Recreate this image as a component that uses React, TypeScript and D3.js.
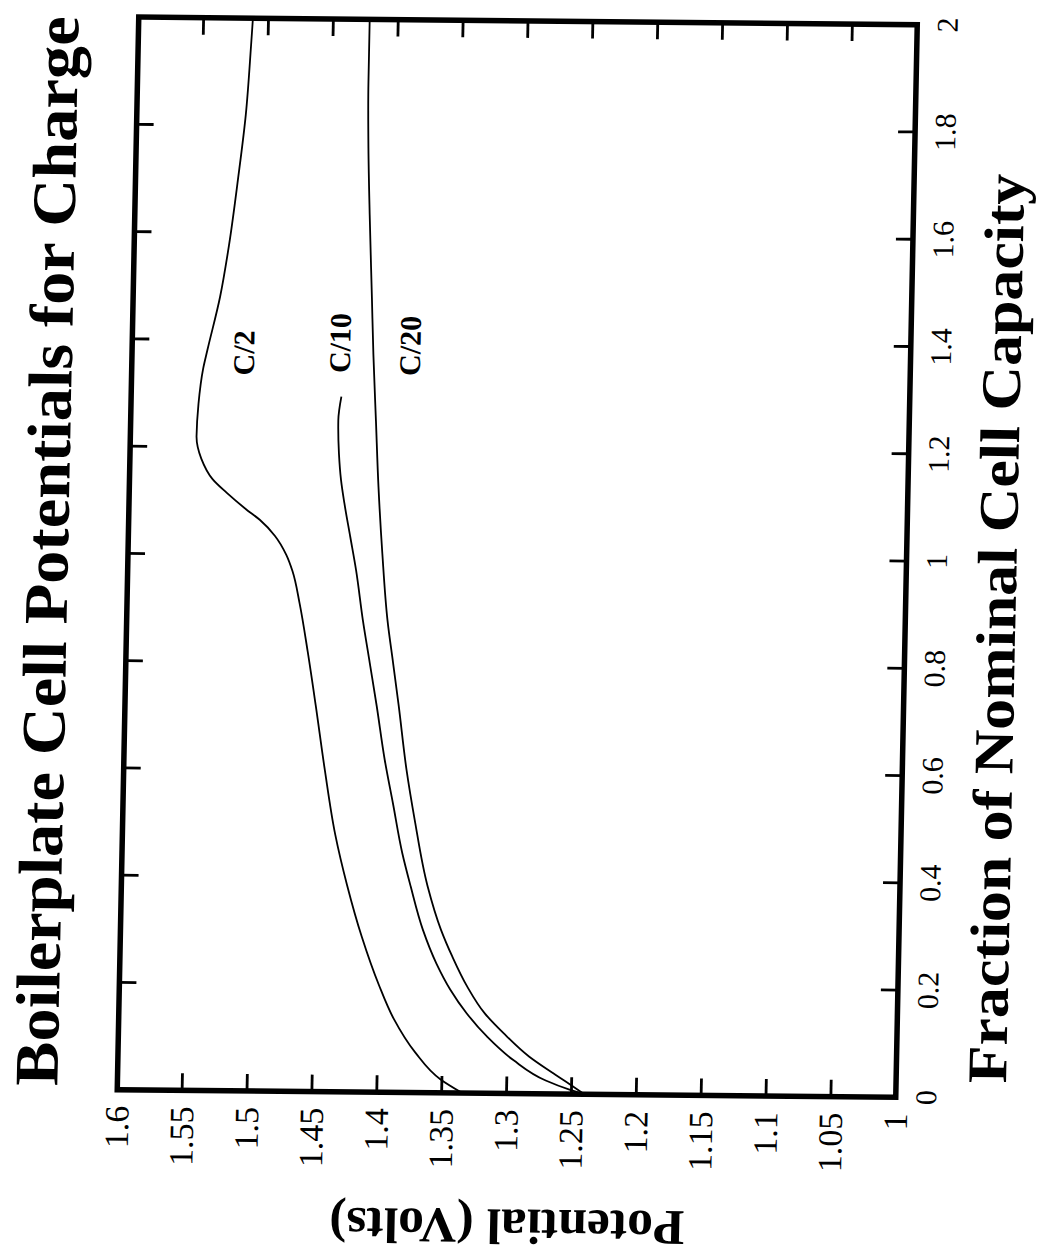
import React from 'react';
import * as d3 from 'd3';

// Fraction of nominal cell capacity (x) and potential in volts (y) for each charge rate
const fracC2 = [0, 0.025, 0.075, 0.137, 0.2, 0.29, 0.385, 0.48, 0.6, 0.72, 0.82, 0.91, 0.97, 1.0, 1.035, 1.065, 1.085, 1.115, 1.14, 1.178, 1.22, 1.28, 1.345, 1.38, 1.48, 1.575, 1.7, 1.82, 1.95, 2.0];
const voltC2 = [1.334, 1.351, 1.371, 1.388, 1.4, 1.414, 1.426, 1.436, 1.445, 1.453, 1.46, 1.467, 1.473, 1.478, 1.487, 1.499, 1.51, 1.525, 1.536, 1.545, 1.549, 1.548, 1.545, 1.542, 1.533, 1.527, 1.521, 1.516, 1.513, 1.512];

const fracC10 = [0, 0.008, 0.025, 0.062, 0.106, 0.149, 0.193, 0.241, 0.304, 0.384, 0.446, 0.539, 0.62, 0.72, 0.8, 0.88, 0.973, 1.035, 1.097, 1.141, 1.19, 1.252, 1.296];
const voltC10 = [1.24, 1.251, 1.27, 1.295, 1.316, 1.332, 1.345, 1.356, 1.367, 1.377, 1.384, 1.392, 1.399, 1.406, 1.412, 1.418, 1.424, 1.429, 1.434, 1.437, 1.439, 1.44, 1.438];

const fracC20 = [0, 0.013, 0.038, 0.069, 0.112, 0.149, 0.199, 0.255, 0.304, 0.385, 0.509, 0.601, 0.72, 0.8, 0.88, 1.004, 1.128, 1.252, 1.376, 1.481, 1.636, 1.76, 1.884, 2.0];
const voltC20 = [1.24, 1.248, 1.264, 1.283, 1.303, 1.318, 1.332, 1.344, 1.353, 1.364, 1.375, 1.382, 1.389, 1.394, 1.399, 1.404, 1.408, 1.411, 1.414, 1.416, 1.419, 1.421, 1.422, 1.422];

const seriesNames = ['C/2', 'C/10', 'C/20'];
// label anchor in data units (fraction, volts)
const labelFrac = [1.376, 1.396, 1.392];
const labelVolt = [1.514, 1.44, 1.386];

const fracTicks = [0, 0.2, 0.4, 0.6, 0.8, 1, 1.2, 1.4, 1.6, 1.8, 2];
const voltTicks = [1.6, 1.55, 1.5, 1.45, 1.4, 1.35, 1.3, 1.25, 1.2, 1.15, 1.1, 1.05, 1];

const W = 1073;
const H = 778;
const TICK = 17;
const serif = '"Liberation Serif", "Times New Roman", serif';

export default function App() {
  const x = d3.scaleLinear().domain([0, 2]).range([0, W]);
  const y = d3.scaleLinear().domain([1, 1.6]).range([H, 0]);

  const line = d3
    .line<[number, number]>()
    .x((d) => x(d[0]))
    .y((d) => y(d[1]))
    .curve(d3.curveMonotoneX);

  const series = [
    d3.zip(fracC2, voltC2),
    d3.zip(fracC10, voltC10),
    d3.zip(fracC20, voltC20),
  ] as [number, number][][];

  const innerFrac = fracTicks.slice(1, -1);
  const innerVolt = voltTicks.slice(1, -1);

  // scanned page: turned a quarter turn and slightly skewed
  const transform = 'matrix(0.02004,-0.99967,1.00064,0.00983,117.25,1089.7)';

  return (
    <svg width={1039} height={1256} style={{ position: 'absolute', left: 0, top: 0, background: '#fff' }}>
      <g transform={transform}>
        {series.map((s, i) => (
          <path key={i} d={line(s) ?? ''} fill="none" stroke="#000" strokeWidth={1.8} />
        ))}

        {innerFrac.map((t) => (
          <g key={'f' + t}>
            <line x1={x(t)} x2={x(t)} y1={H} y2={H - TICK} stroke="#000" strokeWidth={2.8} />
            <line x1={x(t)} x2={x(t)} y1={0} y2={TICK} stroke="#000" strokeWidth={2.8} />
          </g>
        ))}
        {innerVolt.map((t) => (
          <g key={'v' + t}>
            <line x1={0} x2={TICK} y1={y(t)} y2={y(t)} stroke="#000" strokeWidth={2.8} />
            <line x1={W} x2={W - TICK} y1={y(t)} y2={y(t)} stroke="#000" strokeWidth={2.8} />
          </g>
        ))}

        <rect x={0} y={0} width={W} height={H} fill="none" stroke="#000" strokeWidth={5.5} />

        {fracTicks.map((t) => (
          <text key={'fl' + t} x={x(t)} y={H + 19} dy="0.71em" textAnchor="middle"
            fontFamily={serif} fontSize={30}>{String(t)}</text>
        ))}
        {voltTicks.map((t) => (
          <text key={'vl' + t} x={-16} y={y(t)} dy="0.34em" textAnchor="end"
            fontFamily={serif} fontSize={34}>{String(t)}</text>
        ))}

        {seriesNames.map((n, i) => (
          <text key={n} x={x(labelFrac[i])} y={y(labelVolt[i])} dy="0.35em" textAnchor="middle"
            fontFamily={serif} fontWeight="bold" fontSize={30}>{n}</text>
        ))}

        <text x={538} y={-60} textAnchor="middle" fontFamily={serif} fontWeight="bold"
          fontSize={62} textLength={1070} lengthAdjust="spacingAndGlyphs">
          Boilerplate Cell Potentials for Charge
        </text>
        <text x={470} y={H + 110} textAnchor="middle" fontFamily={serif} fontWeight="bold"
          fontSize={56} textLength={910} lengthAdjust="spacingAndGlyphs">
          Fraction of Nominal Cell Capacity
        </text>
        <text transform={`translate(-116,392) rotate(-90)`} textAnchor="middle"
          fontFamily={serif} fontWeight="bold" fontSize={50} textLength={355}
          lengthAdjust="spacingAndGlyphs">
          Potential (Volts)
        </text>
      </g>
    </svg>
  );
}
